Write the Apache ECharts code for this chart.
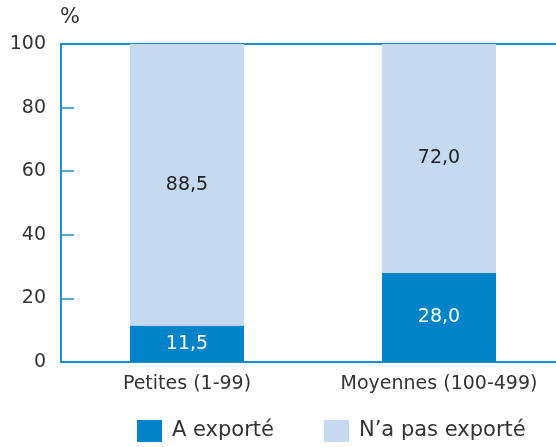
<!DOCTYPE html>
<html>
<head>
<meta charset="utf-8">
<script src="https://cdn.jsdelivr.net/npm/echarts@6/dist/echarts.min.js"></script>
<style>
  html, body { margin: 0; padding: 0; background: #fff; overflow: hidden; }
  #main { width: 566px; height: 447px; }
</style>
</head>
<body>
<div id="main"></div>
<script>
var categories = ['Petites (1-99)', 'Moyennes (100-499)'];
var exported = [11.5, 28.0];
var notExported = [88.5, 72.0];
var yTicks = [0, 20, 40, 60, 80, 100];

var axisBlue = '#1b8fd2';
var textColor = '#333333';
var fontFamily = 'DejaVu Sans';

var chartDom = document.getElementById('main');
var myChart = echarts.init(chartDom);

function fmt(v) {
    return v.toFixed(1).replace('.', ',');
}

var option = {
    animation: false,
    textStyle: { fontFamily: fontFamily },
    grid: {
        left: 61,
        right: 1,
        top: 44,
        bottom: 85,
        show: true,
        borderColor: axisBlue,
        borderWidth: 2
    },
    graphic: [{
        type: 'text',
        left: 60,
        top: 7,
        style: { text: '%', fontSize: 21, fill: textColor, fontFamily: fontFamily }
    }],
    xAxis: {
        type: 'category',
        data: categories,
        axisLine: { lineStyle: { color: axisBlue, width: 2 } },
        axisTick: { inside: true, length: 8, lineStyle: { color: axisBlue, width: 1.5 } },
        axisLabel: { color: textColor, fontSize: 19, margin: 13, interval: 0 }
    },
    yAxis: {
        type: 'value',
        min: yTicks[0],
        max: yTicks[yTicks.length - 1],
        interval: 20,
        axisLine: { show: true, lineStyle: { color: axisBlue, width: 2 } },
        axisTick: { show: true, inside: true, length: 13, lineStyle: { color: axisBlue, width: 1.5 } },
        splitLine: { show: false },
        axisLabel: { color: textColor, fontSize: 19, margin: 15 }
    },
    legend: {
        bottom: 0,
        left: 132,
        itemWidth: 25,
        itemHeight: 22,
        itemGap: 50,
        icon: 'rect',
        textStyle: { color: textColor, fontSize: 21, padding: [0, 0, 0, 5] },
        data: ['A exporté', 'N\u2019a pas exporté']
    },
    series: [
        {
            name: 'A exporté',
            type: 'bar',
            stack: 'total',
            barWidth: 114,
            data: exported,
            itemStyle: { color: '#0083c9' },
            label: {
                show: true,
                position: 'inside',
                color: '#ffffff',
                fontSize: 19,
                formatter: function (p) { return fmt(p.value); }
            }
        },
        {
            name: 'N\u2019a pas exporté',
            type: 'bar',
            stack: 'total',
            barWidth: 114,
            data: notExported,
            itemStyle: { color: '#c5d9f1' },
            label: {
                show: true,
                position: 'inside',
                color: '#222222',
                fontSize: 19,
                formatter: function (p) { return fmt(p.value); }
            }
        }
    ]
};

option && myChart.setOption(option);
</script>
</body>
</html>
